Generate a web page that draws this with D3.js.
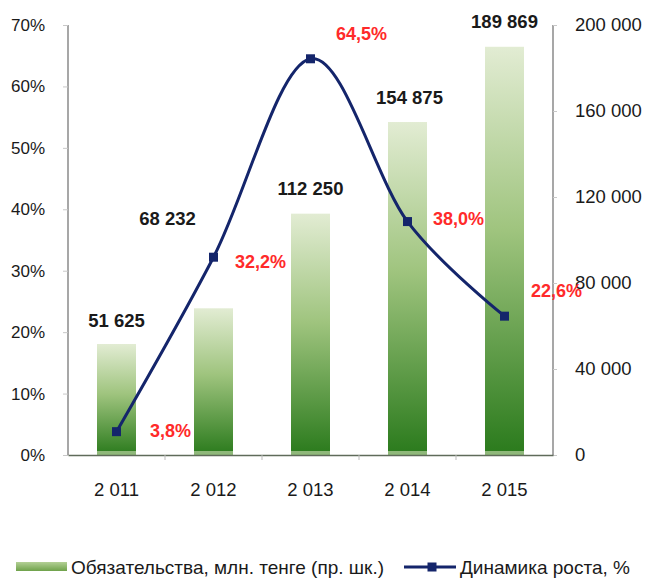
<!DOCTYPE html>
<html lang="ru">
<head>
<meta charset="utf-8">
<title>Обязательства</title>
<script src="https://cdn.jsdelivr.net/npm/d3@7"></script>
<style>
  body { margin: 0; background: #fff; }
  text { font-family: "Liberation Sans", Arial, sans-serif; }
</style>
</head>
<body>
<div id="chart"></div>
<script>
  // data
  var years = ["2 011", "2 012", "2 013", "2 014", "2 015"];
  var liabilities = [51625, 68232, 112250, 154875, 189869];
  var growth = [0.038, 0.322, 0.645, 0.380, 0.226];
  var leftTicks = [0, 0.1, 0.2, 0.3, 0.4, 0.5, 0.6, 0.7];
  var rightTicks = [0, 40000, 80000, 120000, 160000, 200000];
  var barName = "Обязательства, млн. тенге (пр. шк.)";
  var lineName = "Динамика роста, %";

  // label nudges (layout only)
  var barLabelDx = [0, -46, 0, 2, 0], barLabelDy = [-17, -83, -19, -18, -19];
  var pctLabelDx = [54, 47, 51, 51, 52], pctLabelDy = [5, 11, -19, 3, -19];

  var W = 646, H = 579;
  var plotL = 68, plotR = 553, plotT = 25, plotB = 455;

  var ru = d3.formatLocale({ decimal: ",", thousands: " ", grouping: [3], currency: ["", ""] });
  var fmtNum = ru.format(",");
  var fmtPct = ru.format(".1%");

  var svg = d3.select("#chart").append("svg")
    .attr("width", W).attr("height", H);

  var defs = svg.append("defs");
  var grad = defs.append("linearGradient").attr("id", "barGrad")
    .attr("x1", 0).attr("y1", 0).attr("x2", 0).attr("y2", 1);
  grad.append("stop").attr("offset", "0%").attr("stop-color", "#e2ecd3");
  grad.append("stop").attr("offset", "45%").attr("stop-color", "#9fc47e");
  grad.append("stop").attr("offset", "100%").attr("stop-color", "#2a7a1c");

  var legGrad = defs.append("linearGradient").attr("id", "legGrad")
    .attr("x1", 0).attr("y1", 0).attr("x2", 0).attr("y2", 1);
  legGrad.append("stop").attr("offset", "0%").attr("stop-color", "#b3d096");
  legGrad.append("stop").attr("offset", "100%").attr("stop-color", "#6fa24a");

  var x = d3.scaleBand().domain(years).range([plotL, plotR]);
  var yL = d3.scaleLinear().domain([0, 0.7]).range([plotB, plotT]);
  var yR = d3.scaleLinear().domain([0, 200000]).range([plotB, plotT]);

  var barW = 39;
  var cx = (d, i) => x(years[i]) + x.bandwidth() / 2;

  // bars
  svg.append("g").selectAll("rect").data(liabilities).join("rect")
    .attr("x", (d, i) => cx(d, i) - barW / 2)
    .attr("y", d => yR(d))
    .attr("width", barW)
    .attr("height", d => yR(0) - yR(d))
    .attr("fill", "url(#barGrad)");
  // light strip at the foot of each bar
  svg.append("g").selectAll("rect").data(liabilities).join("rect")
    .attr("x", (d, i) => cx(d, i) - barW / 2)
    .attr("y", yR(0) - 4)
    .attr("width", barW)
    .attr("height", 4)
    .attr("fill", "#8fb87a");

  // axes
  var axL = svg.append("g").attr("transform", "translate(" + plotL + ",0)")
    .call(d3.axisLeft(yL).tickValues(leftTicks).tickSize(5).tickPadding(18)
      .tickFormat(d => Math.round(d * 100) + "%"));
  var axR = svg.append("g").attr("transform", "translate(" + plotR + ",0)")
    .call(d3.axisRight(yR).tickValues(rightTicks).tickSize(4).tickPadding(18)
      .tickFormat(fmtNum));
  [axL, axR].forEach(function (a) {
    a.select(".domain").attr("stroke", "#8a8a8a").attr("stroke-width", 1.5)
      .attr("d", "M0," + plotT + "V" + plotB);
    a.selectAll(".tick line").attr("stroke", "#c8c8c8");
    a.selectAll("text").attr("fill", "#1a1a1a");
  });
  axL.selectAll("text").attr("font-size", 17);
  axR.selectAll("text").attr("font-size", 18.5);

  var axB = svg.append("g").attr("transform", "translate(0," + plotB + ")")
    .call(d3.axisBottom(x).tickSize(0).tickPadding(28));
  axB.select(".domain").attr("stroke", "#5f6b5a").attr("stroke-width", 1.5);
  axB.selectAll("text").attr("font-size", 18.5).attr("fill", "#1a1a1a");
  // small separators between categories
  axB.selectAll(".sep").data(years.slice(0, -1)).join("line")
    .attr("x1", d => x(d) + x.bandwidth()).attr("x2", d => x(d) + x.bandwidth())
    .attr("y1", 0).attr("y2", 5).attr("stroke", "#bbb");

  // line
  svg.append("path").datum(growth)
    .attr("fill", "none")
    .attr("stroke", "#14256b")
    .attr("stroke-width", 3)
    .attr("d", d3.line().x(cx).y(d => yL(d)).curve(d3.curveCardinal.tension(0)));
  svg.append("g").selectAll("rect").data(growth).join("rect")
    .attr("x", (d, i) => cx(d, i) - 4.5)
    .attr("y", d => yL(d) - 4.5)
    .attr("width", 9).attr("height", 9)
    .attr("fill", "#14256b");

  // bar value labels
  svg.append("g").selectAll("text").data(liabilities).join("text")
    .attr("x", (d, i) => cx(d, i) + barLabelDx[i])
    .attr("y", (d, i) => yR(d) + barLabelDy[i])
    .attr("text-anchor", "middle")
    .attr("font-size", 18.5).attr("font-weight", "bold").attr("fill", "#1a1a1a")
    .text(d => fmtNum(d));

  // growth labels
  svg.append("g").selectAll("text").data(growth).join("text")
    .attr("x", (d, i) => cx(d, i) + pctLabelDx[i])
    .attr("y", (d, i) => yL(d) + pctLabelDy[i])
    .attr("text-anchor", "middle")
    .attr("font-size", 18).attr("font-weight", "bold").attr("fill", "#ff2a2a")
    .text(d => fmtPct(d));

  // legend
  var leg = svg.append("g");
  leg.append("rect").attr("x", 16).attr("y", 562).attr("width", 51).attr("height", 9)
    .attr("fill", "url(#legGrad)");
  leg.append("text").attr("x", 71).attr("y", 574).attr("font-size", 19).attr("fill", "#1a1a1a")
    .text(barName);
  leg.append("line").attr("x1", 404).attr("x2", 456).attr("y1", 567).attr("y2", 567)
    .attr("stroke", "#14256b").attr("stroke-width", 3);
  leg.append("rect").attr("x", 427.5).attr("y", 562.5).attr("width", 9).attr("height", 9)
    .attr("fill", "#14256b");
  leg.append("text").attr("x", 460).attr("y", 574).attr("font-size", 19).attr("fill", "#1a1a1a")
    .text(lineName);
</script>
</body>
</html>
